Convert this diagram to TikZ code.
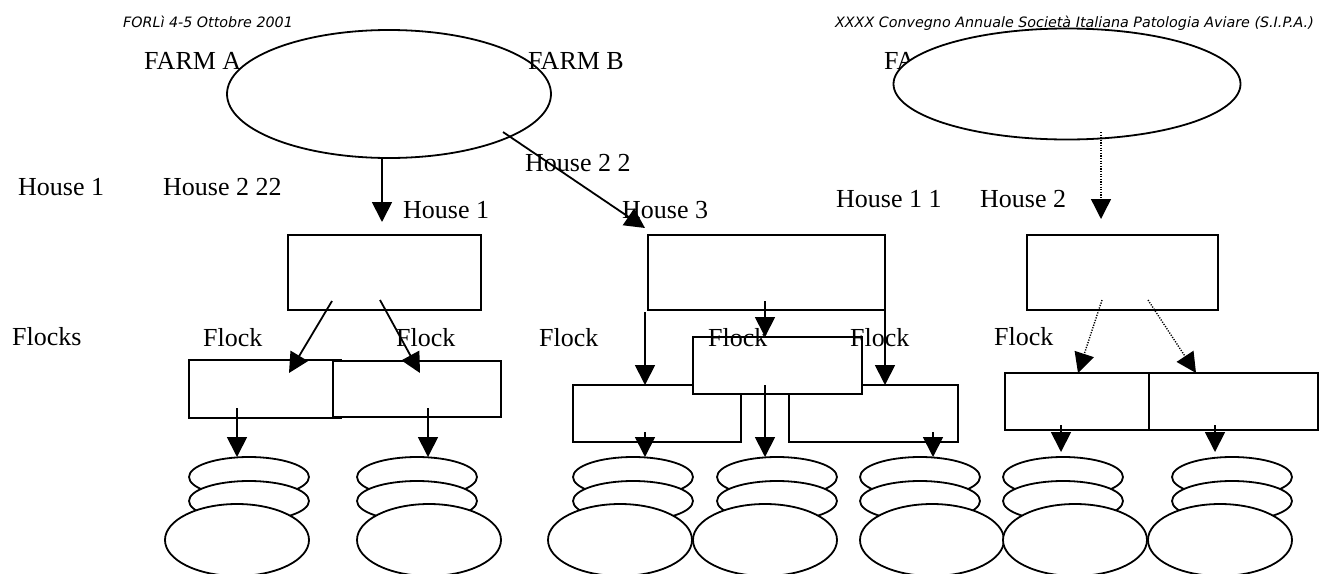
\documentclass[tikz,border=0pt]{standalone}
\usepackage{fontspec}
\setmainfont{Liberation Serif}
\newfontfamily\hdrfont{DejaVu Sans}
\usetikzlibrary{arrows.meta,shapes.geometric}

\tikzset{
  outline/.style={draw=black, line width=1.8pt, fill=white},
  housebox/.style={outline, rectangle, inner sep=0pt, minimum height=75pt},
  flockbox/.style={outline, rectangle, inner sep=0pt},
  farmoval/.style={outline, ellipse, inner sep=0pt},
  egg/.style={outline, ellipse, inner sep=0pt, minimum width=120pt, minimum height=40pt},
  bigegg/.style={outline, ellipse, inner sep=0pt, minimum width=144pt, minimum height=72pt},
  link/.style={line width=1.8pt, -{Triangle[length=20pt,width=20pt]}},
  dlink/.style={line width=1.4pt, dash pattern=on 1.2pt off 1.4pt, -{Triangle[length=20pt,width=20pt]}},
  lbl/.style={inner sep=0pt, anchor=base west, font=\fontsize{26}{30}\selectfont},
  hdr/.style={inner sep=0pt, font=\hdrfont\itshape\fontsize{14.3}{17}\selectfont},
}

\begin{document}
\begin{tikzpicture}[x=1pt, y=-1pt]
\useasboundingbox (0,0) rectangle (1320,573);
\clip (0,0) rectangle (1320,573);
\fill[white] (0,0) rectangle (1320,573);

% farms
\node[farmoval, minimum width=324pt, minimum height=128pt] (farmA) at (389,94) {};
\node[lbl] (tFA) at (144,69) {FARM A};
\node[lbl] (tFB) at (528,69) {FARM B};
\node[lbl] (tFC) at (884,69) {FA};
\node[farmoval, minimum width=347pt, minimum height=111pt] (farmC) at (1067,84) {};

% houses
\node[housebox, minimum width=193pt] (houseA) at (384.5,272.5) {};
\node[housebox, minimum width=237pt] (houseB) at (766.5,272.5) {};
\node[housebox, minimum width=191pt] (houseC) at (1122.5,272.5) {};

% flocks
\node[flockbox, minimum width=152pt, minimum height=58pt] (flA1) at (265,389) {};
\node[flockbox, minimum width=168pt, minimum height=56pt] (flA2) at (417,389) {};
\node[flockbox, minimum width=168pt, minimum height=57pt] (flB1) at (657,413.5) {};
\node[flockbox, minimum width=169pt, minimum height=57pt] (flB3) at (873.5,413.5) {};
\node[flockbox, minimum width=169pt, minimum height=57pt] (flB2) at (777.5,365.5) {};
\node[flockbox, minimum width=152pt, minimum height=57pt] (flC1) at (1081,401.5) {};
\node[flockbox, minimum width=169pt, minimum height=57pt] (flC2) at (1233.5,401.5) {};

% egg stacks: two small ovals and a large one in front
\foreach \n/\sx/\bx in {eA1/249/237, eA2/417/429, eB1/633/620, eB2/777/765,
                        eB3/920/932, eC1/1063/1075, eC2/1232/1220} {
  \node[egg] (\n t) at (\sx,477) {};
  \node[egg] (\n m) at (\sx,501) {};
  \node[bigegg] (\n b) at (\bx,540) {};
}

% connector end points
\coordinate (fAs) at (382,158);   \coordinate (hAin) at (382,222);
\coordinate (fAe) at (503,132);   \coordinate (hBin) at (645,228);
\coordinate (fCs) at (1101,132);  \coordinate (hCin) at (1101,219);
\coordinate (hAl) at (332,301);   \coordinate (fA1in) at (289,373);
\coordinate (hAr) at (380,300);   \coordinate (fA2in) at (420,373);
\coordinate (hBl) at (645,312);   \coordinate (fB1in) at (645,385);
\coordinate (hBm) at (765,301);   \coordinate (fB2in) at (765,337);
\coordinate (hBr) at (885,310);   \coordinate (fB3in) at (885,385);
\coordinate (hCl) at (1102,300);  \coordinate (fC1in) at (1078,373);
\coordinate (hCr) at (1148,300);  \coordinate (fC2in) at (1196,373);
\coordinate (fA1o) at (237,408);  \coordinate (eA1in) at (237,457);
\coordinate (fA2o) at (428,408);  \coordinate (eA2in) at (428,457);
\coordinate (fB1o) at (645,432);  \coordinate (eB1in) at (645,457);
\coordinate (fB2o) at (765,385);  \coordinate (eB2in) at (765,457);
\coordinate (fB3o) at (933,432);  \coordinate (eB3in) at (933,457);
\coordinate (fC1o) at (1061,425); \coordinate (eC1in) at (1061,452);
\coordinate (fC2o) at (1215,425); \coordinate (eC2in) at (1215,452);

% connectors
\draw[link] (fAs) -- (hAin);
\draw[link] (fAe) -- (hBin);
\draw[dlink] (fCs) -- (hCin);
\draw[link] (hAl) -- (fA1in);
\draw[link] (hAr) -- (fA2in);
\draw[link] (hBl) -- (fB1in);
\draw[link] (hBm) -- (fB2in);
\draw[link] (hBr) -- (fB3in);
\draw[dlink] (hCl) -- (fC1in);
\draw[dlink] (hCr) -- (fC2in);
\draw[link] (fA1o) -- (eA1in);
\draw[link] (fA2o) -- (eA2in);
\draw[link] (fB1o) -- (eB1in);
\draw[link] (fB2o) -- (eB2in);
\draw[link] (fB3o) -- (eB3in);
\draw[link] (fC1o) -- (eC1in);
\draw[link] (fC2o) -- (eC2in);

% labels
\node[lbl] (tH1) at (18,195) {House 1};
\node[lbl] (tH222) at (163,195) {House 2 22};
\node[lbl] (tHA1) at (403,218) {House 1};
\node[lbl] (tH22) at (525,171) {House 2 2};
\node[lbl] (tH3) at (622,218) {House 3};
\node[lbl] (tH11) at (836,207) {House 1 1};
\node[lbl] (tH2) at (980,207) {House 2};

\node[lbl] (tFlocks) at (12,345) {Flocks};
\node[lbl] (tFl1) at (203,346) {Flock};
\node[lbl] (tFl2) at (396,346) {Flock};
\node[lbl] (tFl3) at (539,346) {Flock};
\node[lbl] (tFl4) at (708,346) {Flock};
\node[lbl] (tFl5) at (850,346) {Flock};
\node[lbl] (tFl6) at (994,345) {Flock};

% page header
\node[hdr, anchor=base west] (hdrL) at (123,27) {FORLì 4-5 Ottobre 2001};
\node[hdr, anchor=base east] (hdrR) at (1314,27) {XXXX Convegno Annuale Società Italiana Patologia Aviare (S.I.P.A.)};
\end{tikzpicture}
\end{document}
